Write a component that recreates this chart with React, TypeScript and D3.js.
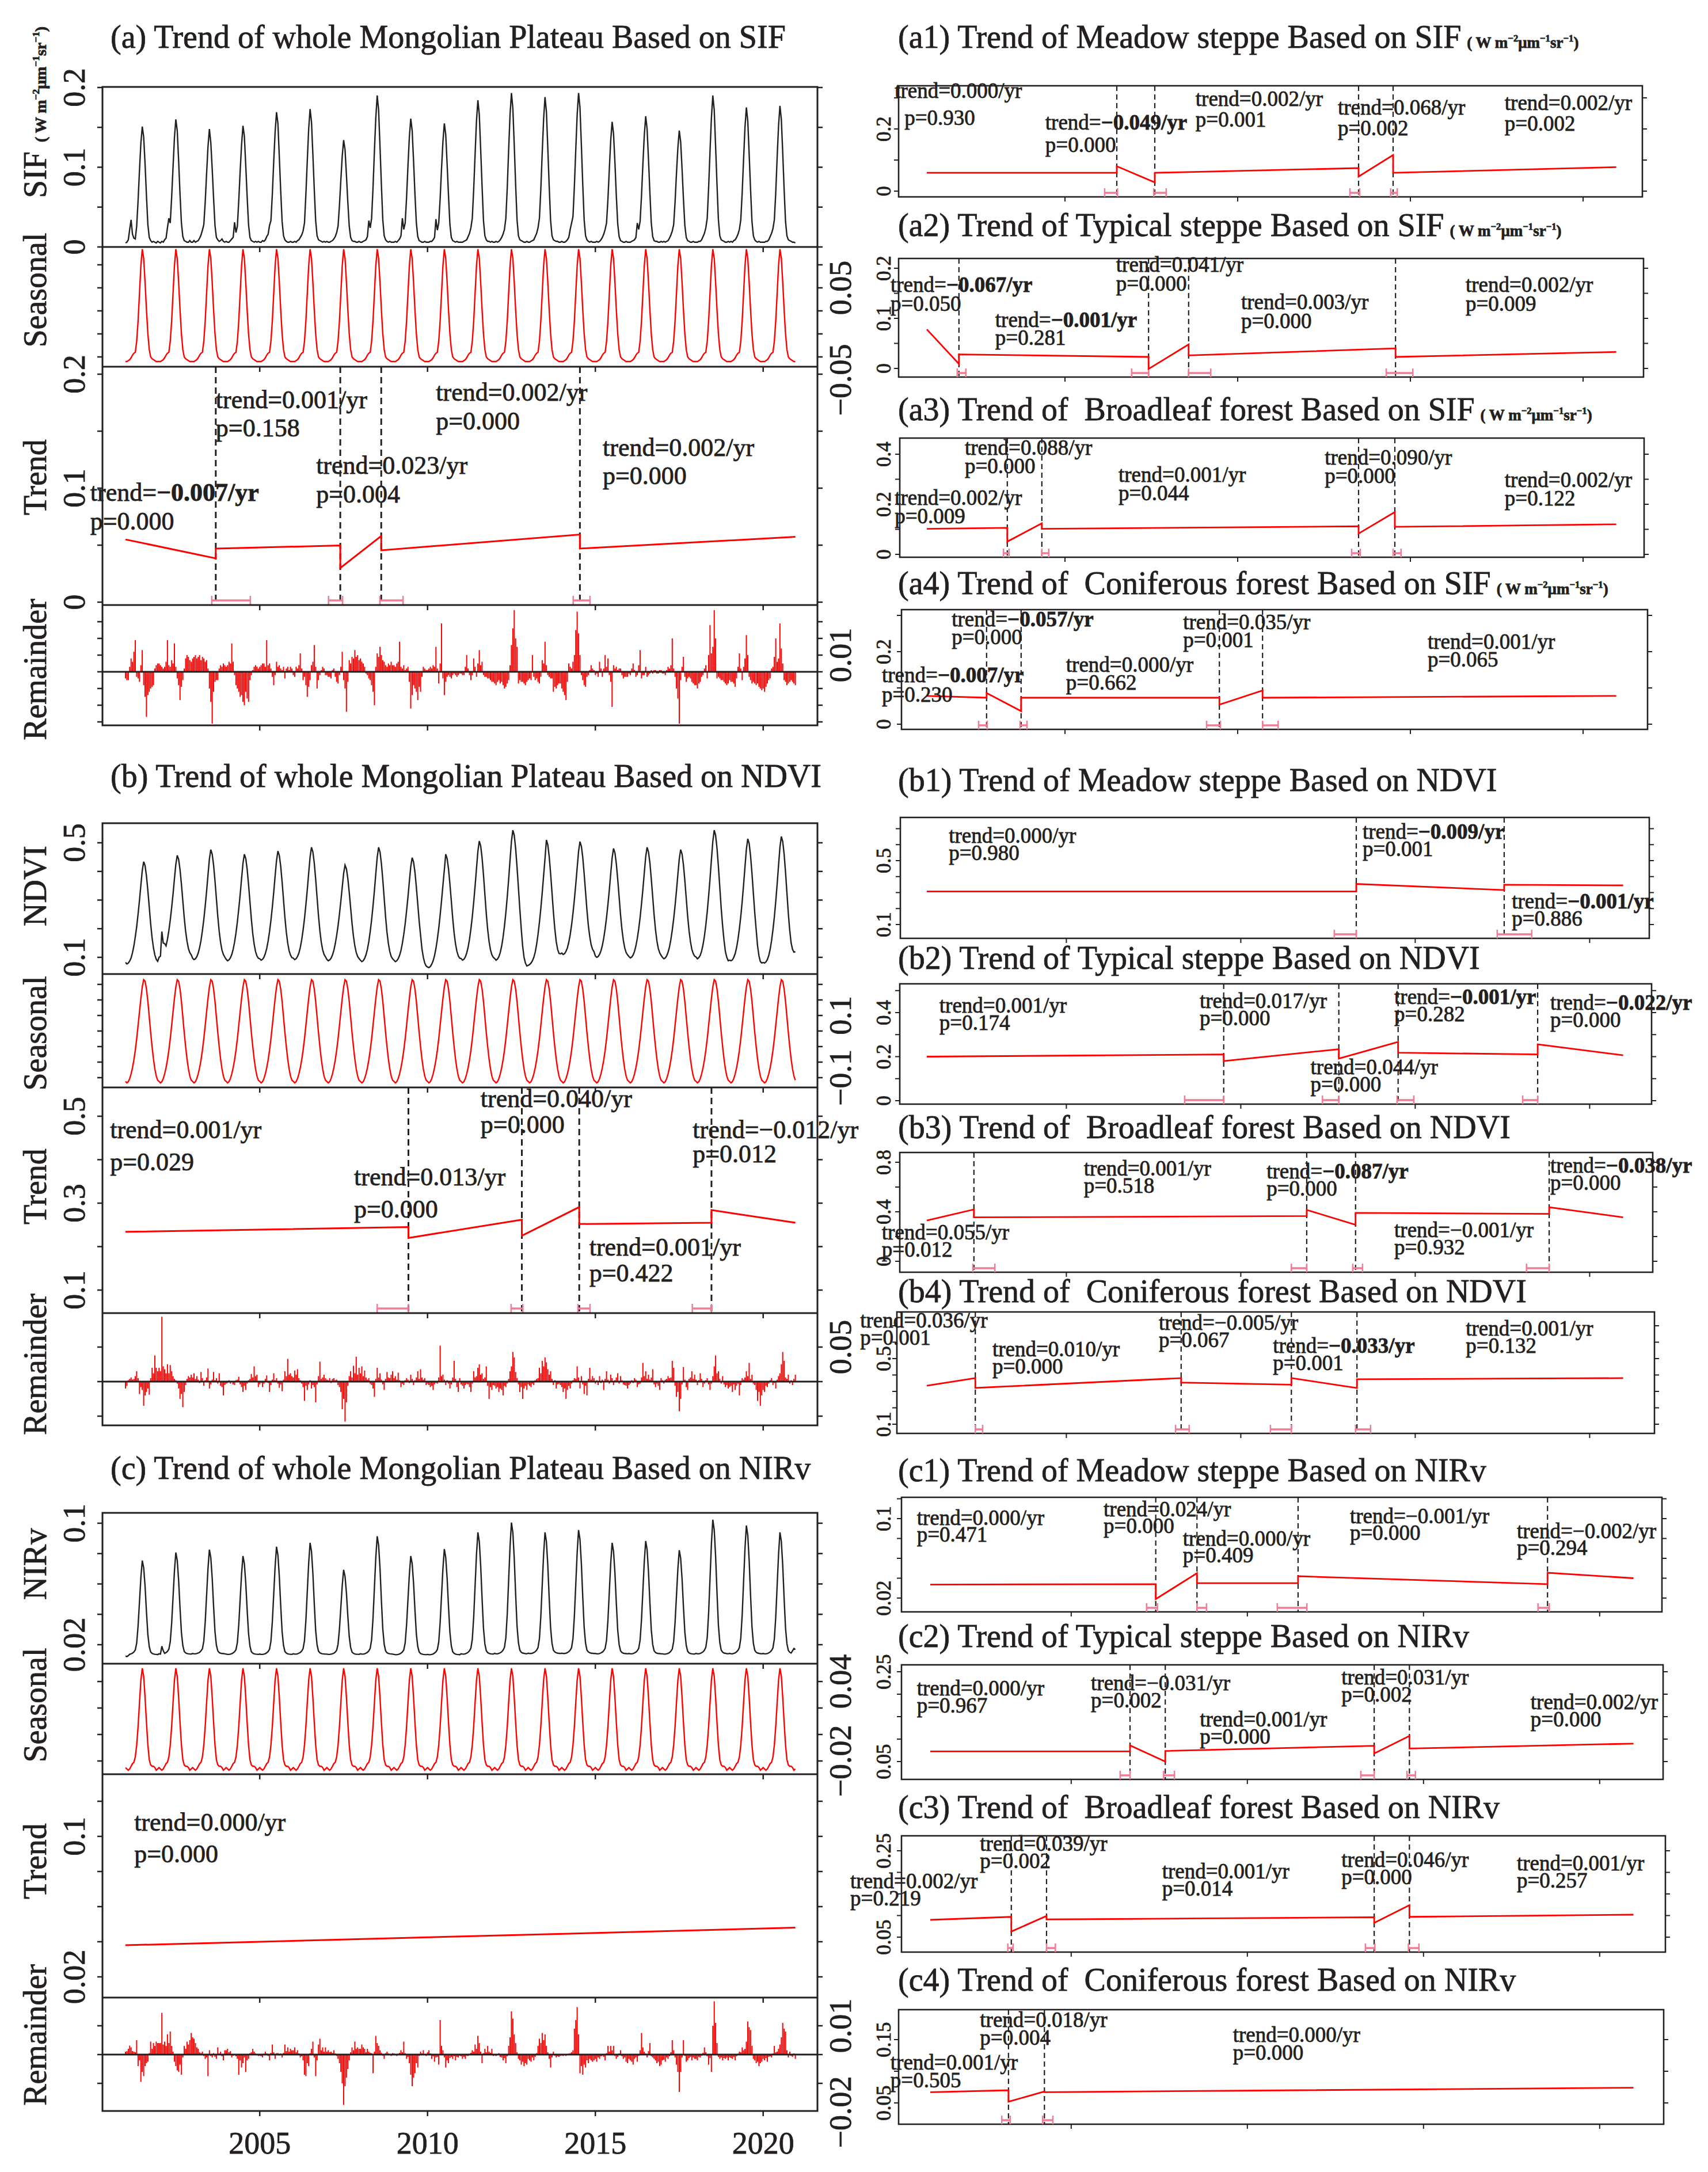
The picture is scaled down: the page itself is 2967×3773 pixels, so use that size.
import React, { useEffect } from "react";
import * as d3 from "d3";

const W = 2967;
const H = 3773;
const SERIF = "'Liberation Serif', 'Times New Roman', 'DejaVu Serif', serif";
const INK = "#231f20";
const RED = "#ff0000";
const PINK = "#ef7d95";

// time axis: 24 samples a year, 2001-2020, one row per year
const firstYear = 2001;
const perYear = 24;
const lastTime = 2020.96;
const yearTicks = [2005, 2010, 2015, 2020];

// ---------- (a) SIF, whole plateau (values in 1e-3) ----------
const sifUnit = 1e-3;
const sifObserved = [
  [5,6,9,22,34,16,11,10,26,58,96,130,151,138,104,64,28,12,8,6,7,6,5,7],
  [6,5,7,6,9,11,24,36,30,62,100,137,160,146,108,66,30,13,8,7,6,6,8,6],
  [6,8,6,7,8,11,15,21,28,56,92,126,148,131,98,61,27,12,9,7,8,10,7,6],
  [7,6,6,8,10,12,31,18,26,58,95,128,152,139,102,63,28,12,8,7,6,7,6,7],
  [6,6,8,7,9,13,16,27,33,66,107,144,169,155,113,70,32,14,9,7,6,6,7,6],
  [6,7,6,8,9,12,15,20,30,66,108,148,173,157,116,72,33,14,9,8,7,6,7,6],
  [7,6,6,7,8,10,13,18,26,52,84,114,134,122,90,56,26,12,8,7,7,6,6,7],
  [6,6,7,8,9,13,33,24,36,74,120,162,190,172,126,78,34,14,9,7,6,7,6,6],
  [6,7,6,8,10,14,36,22,30,62,102,138,161,146,108,66,30,13,8,7,6,6,7,6],
  [6,6,7,7,9,12,35,21,30,60,98,132,155,141,104,64,28,12,8,7,6,7,6,6],
  [6,6,7,8,9,13,17,24,36,72,116,158,184,166,122,76,33,14,9,7,7,6,7,6],
  [6,7,6,7,9,12,16,22,36,74,122,166,193,174,128,78,34,14,9,8,7,6,6,7],
  [6,6,7,8,9,13,17,24,36,72,118,160,188,170,124,76,33,14,9,8,7,7,6,6],
  [7,6,6,7,9,12,22,30,38,76,122,166,193,175,128,78,34,14,9,7,6,7,6,6],
  [6,7,6,7,9,12,16,22,30,60,98,134,157,142,106,64,29,13,8,7,6,6,7,6],
  [6,6,7,8,9,12,30,22,32,64,104,140,164,148,110,68,30,13,8,7,7,6,6,7],
  [6,7,6,7,8,11,15,20,28,56,92,124,146,132,98,60,27,12,8,7,6,6,7,6],
  [6,6,7,7,9,13,17,24,36,74,120,162,190,172,126,78,34,14,9,8,7,6,6,7],
  [6,7,6,8,9,12,16,22,34,68,110,150,175,158,116,72,32,14,9,7,6,7,6,6],
  [6,6,7,7,9,13,17,23,34,68,112,152,177,160,118,72,32,14,9,8,7,6,6,5],
];
const sifSeasonalCycle = [-30,-30,-29,-28,-26,-23,-21,-20,-8,14,44,74,92,82,56,26,0,-17,-25,-27,-28,-29,-30,-30];
const sifRemainder = [
  [-4,-5,-5,3,8,6,12,19,-3,-4,-6,4,13,-8,-15,-27,-14,-12,-10,-9,-8,2,4,5],
  [5,4,3,2,3,6,19,4,3,7,5,17,3,-4,-8,-17,-9,-5,2,8,10,9,7,6],
  [8,9,10,8,9,10,7,9,8,6,7,2,-10,-18,-31,-12,-6,-5,-5,2,4,3,5,4],
  [3,4,6,5,17,6,-2,-8,-10,-12,-15,-14,-18,-20,-12,-16,-18,-5,-2,1,3,4,3,2],
  [3,4,5,5,3,19,4,5,2,-3,-8,-2,6,3,4,2,1,3,-4,2,3,1,3,2],
  [-2,-3,3,2,4,11,2,-5,-3,-8,-15,-9,-5,4,6,16,3,-10,-5,-2,1,3,2,-2],
  [-2,-3,-3,-4,1,2,-3,-6,-7,-2,3,12,-5,-10,-24,-6,7,5,9,8,13,9,10,7],
  [8,6,5,3,-1,-2,-4,-5,-8,-12,-20,3,11,9,15,10,7,6,4,3,5,4,6,4],
  [4,3,5,6,18,3,2,4,1,2,3,-6,-22,-14,-8,-10,-12,-17,-9,-12,-3,3,2,1],
  [1,2,3,2,4,3,15,2,-7,5,29,-4,-14,-6,-3,-2,-3,-4,-2,-1,-2,-3,-2,-1],
  [-1,-2,-2,3,10,2,-2,-5,-2,8,3,-3,5,13,4,6,-2,-3,-3,-4,-4,-5,-6,-6],
  [-7,-8,-6,-5,-7,-6,-8,-10,-9,-7,-5,4,16,26,37,20,15,-7,-5,-6,-6,-7,-8,-6],
  [-5,-4,-5,10,-3,-5,-4,-6,-7,-3,7,5,18,4,-2,-3,-4,-4,-12,-9,-10,-8,-7,-7],
  [-10,-12,-14,-17,-6,5,3,2,6,10,25,36,23,10,-2,-5,-8,-9,-3,-2,1,4,2,1],
  [-2,-1,-3,6,2,-3,2,10,3,8,-2,-6,-21,4,2,3,1,2,2,-2,-4,-3,-3,-3],
  [-1,-2,2,5,1,-3,-2,4,13,-4,-2,-2,3,-3,-2,-1,1,-1,1,1,-1,-1,1,1],
  [-1,-1,-2,1,3,2,4,20,2,-3,-10,-16,-31,-5,3,9,-3,-6,-4,-3,-4,-6,-7,-8],
  [-8,-10,-7,-6,-3,-2,2,4,-4,10,28,11,15,37,20,-4,-3,-4,-5,-5,-6,-7,-8,-7],
  [-5,-6,-6,-7,-9,-4,3,11,2,-5,3,8,22,10,-3,-5,-7,-6,-7,-8,-7,-9,-10,-11],
  [-10,-12,-9,-7,-5,-4,2,3,9,20,6,8,29,14,5,-5,-6,-8,-7,-6,-5,-6,-7,-8],
];
const sifBreaks = [2003.69, 2007.4, 2008.62, 2014.54];
const sifBreakCI = [[2003.57, 2004.72], [2007.05, 2007.47], [2008.58, 2009.27], [2014.34, 2014.84]];
const sifTrend = [[0.055, 0.0384], [0.047, 0.0497], [0.03, 0.058], [0.0455, 0.0593], [0.047, 0.0573]];
const sifNotes = [
  { t: "trend=\u22120.007/yr", p: "p=0.000", x: 1999.95, y: 0.0889, dy: 50, b: true },
  { t: "trend=0.001/yr", p: "p=0.158", x: 2003.69, y: 0.17, dy: 49 },
  { t: "trend=0.023/yr", p: "p=0.004", x: 2006.68, y: 0.1126, dy: 50 },
  { t: "trend=0.002/yr", p: "p=0.000", x: 2010.25, y: 0.1768, dy: 50 },
  { t: "trend=0.002/yr", p: "p=0.000", x: 2015.22, y: 0.1283, dy: 49 },
];

// ---------- (b) NDVI, whole plateau (values in 1e-3) ----------
const ndviUnit = 1e-3;
const ndviObserved = [
  [82,77,80,87,98,116,140,171,207,251,299,352,403,434,420,384,333,275,217,169,133,108,93,86],
  [100,104,190,150,148,140,163,193,230,273,321,374,425,456,442,406,355,297,239,191,156,131,116,109],
  [97,92,95,102,115,134,159,193,232,279,331,388,443,476,460,422,367,305,243,191,152,125,110,101],
  [93,88,91,98,110,128,153,185,224,269,319,374,428,460,445,408,354,294,234,183,146,120,105,97],
  [95,90,93,100,113,131,157,190,229,275,327,384,438,471,456,418,363,301,239,188,150,123,108,99],
  [97,92,95,103,115,134,161,195,235,283,336,394,450,484,468,429,373,309,246,193,153,126,110,102],
  [93,88,91,97,108,124,147,176,210,251,296,345,393,422,409,375,327,273,219,174,140,117,103,96],
  [90,85,88,96,109,128,155,190,231,279,333,392,449,484,468,428,371,306,241,187,148,120,103,95],
  [90,85,88,95,107,124,149,180,217,262,311,365,417,448,433,397,345,286,227,178,130,100,80,70],
  [66,64,68,76,88,106,131,163,201,247,297,352,405,460,445,409,356,297,236,185,147,121,105,97],
  [96,90,93,101,115,135,163,199,242,292,349,410,470,506,489,447,388,320,253,197,155,126,109,100],
  [96,90,94,102,117,139,170,209,256,311,372,440,505,544,526,480,415,342,268,200,140,100,80,70],
  [72,75,80,88,100,118,145,180,222,270,325,385,445,510,493,452,393,326,258,200,156,128,114,112],
  [115,110,113,121,133,153,179,213,254,302,355,413,470,504,488,449,392,328,264,211,172,144,128,120],
  [105,100,103,110,123,141,167,200,239,285,336,393,447,480,465,427,372,311,249,198,160,133,117,109],
  [103,98,101,108,121,140,166,199,239,286,338,395,451,484,468,430,374,312,249,197,158,131,116,107],
  [100,95,98,105,118,136,162,195,234,280,332,389,443,476,461,423,368,306,244,193,155,128,113,104],
  [101,95,99,107,122,144,174,213,259,314,374,441,505,544,526,481,417,344,271,210,160,120,100,88],
  [90,88,91,100,113,134,163,200,243,295,353,416,477,514,497,454,393,324,255,197,140,105,85,80],
  [82,80,84,92,106,128,158,196,241,295,355,421,484,522,504,460,397,325,253,194,150,128,118,120],
];
const ndviSeasonalCycle = [-112,-117,-113,-103,-88,-68,-43,-12,25,68,112,155,192,215,210,185,145,95,45,0,-40,-72,-95,-108];
const ndviRemainder = [
  [-10,-6,2,4,6,3,4,8,15,5,-18,-8,-12,-35,-20,-15,-10,-19,5,20,12,38,20,15],
  [20,15,94,22,18,12,25,12,24,15,8,4,2,-3,-10,-25,-18,-37,-15,-5,4,8,6,10],
  [6,12,4,8,3,-2,14,5,-6,2,6,19,-10,-4,3,14,2,5,-3,12,-6,-8,-20,-5],
  [-3,-2,2,-3,-1,-4,-5,2,3,7,-4,-8,-15,-6,-12,-3,2,4,11,6,22,8,10,-8],
  [-4,-2,-8,-3,4,9,-2,-15,-5,3,12,2,5,-3,-9,-4,-14,3,15,8,33,10,12,8],
  [6,16,10,18,5,2,-3,-8,-28,-6,-12,-4,2,-10,-5,-8,-30,-4,8,29,4,6,10,5],
  [3,2,5,-2,4,5,2,3,-5,-8,-15,-40,-25,-58,-30,-6,8,15,6,23,12,36,10,20],
  [12,22,8,16,6,3,5,-3,-5,-10,-22,4,20,6,12,3,-4,-12,4,14,6,5,10,15],
  [5,8,3,13,2,-8,-3,-5,2,5,3,-2,10,4,-5,2,6,15,4,18,6,3,5,-5],
  [-3,-5,-8,-6,-12,-4,-2,-3,6,52,8,10,3,-5,2,-3,-10,-4,6,30,4,-8,-15,5],
  [-4,-6,-10,-5,-3,-4,-8,-15,-3,15,6,8,20,25,10,12,4,6,22,-6,-25,-8,-12,-5],
  [-6,-10,-8,-15,-10,-12,-20,-6,-8,-3,4,15,22,43,35,14,5,-4,-15,-8,-25,-10,-6,-12],
  [-4,-6,-8,-3,-5,2,4,5,20,12,30,22,35,28,18,10,15,4,-5,2,-10,-4,-3,-5],
  [-8,-15,-10,-25,-12,-6,-10,-3,2,5,4,22,6,-10,8,-4,-18,-6,-20,4,20,3,8,5],
  [-3,2,-5,8,-2,3,-12,4,15,3,-3,10,5,-5,2,6,12,-3,8,2,-4,-5,-6,-10],
  [-5,-3,2,-2,5,3,-8,-4,-3,6,27,8,15,4,10,3,6,18,-4,-8,-3,-6,-12,5],
  [2,-3,3,4,8,5,6,30,20,-6,-22,-15,-43,-25,-4,21,3,-8,-12,4,6,15,4,10],
  [3,-5,2,12,4,-8,-3,2,5,-4,-12,-3,8,22,38,12,15,4,-3,8,-4,-8,-5,-10],
  [-8,-6,-15,-4,-12,-6,-3,-20,-5,5,3,6,15,8,27,4,10,-3,-5,-12,-28,-15,-35,-20],
  [-12,-15,-6,-8,-3,2,5,-5,-2,-10,3,8,12,25,43,30,6,4,10,-3,2,-5,4,10],
];
const ndviBreaks = [2009.43, 2012.81, 2014.52, 2018.46];
const ndviBreakCI = [[2008.5, 2009.43], [2012.49, 2012.84], [2014.48, 2014.84], [2017.89, 2018.46]];
const ndviTrend = [[0.234, 0.245], [0.22, 0.262], [0.225, 0.291], [0.252, 0.255], [0.284, 0.255]];
const ndviNotes = [
  { t: "trend=0.001/yr", p: "p=0.029", x: 2000.54, y: 0.45, dy: 56 },
  { t: "trend=0.013/yr", p: "p=0.000", x: 2007.81, y: 0.341, dy: 56 },
  { t: "trend=0.040/yr", p: "p=0.000", x: 2011.58, y: 0.521, dy: 45 },
  { t: "trend=0.001/yr", p: "p=0.422", x: 2014.82, y: 0.179, dy: 45 },
  { t: "trend=\u22120.012/yr", p: "p=0.012", x: 2017.9, y: 0.45, dy: 42 },
];

// ---------- (c) NIRv, whole plateau (values in 1e-4) ----------
const nirvUnit = 1e-4;
const nirvObserved = [
  [125,122,128,137,140,144,152,165,210,323,482,642,754,707,585,416,266,187,152,143,139,137,136,135],
  [140,138,190,160,143,148,156,170,219,340,512,685,807,756,623,441,280,194,156,146,142,140,139,138],
  [142,140,140,142,145,150,159,173,223,348,525,702,826,774,639,452,286,197,159,148,144,142,141,140],
  [138,136,136,138,141,146,154,167,214,332,499,665,784,734,606,430,273,190,154,144,140,138,137,136],
  [138,136,136,138,141,147,155,170,222,350,532,714,845,790,650,457,286,195,155,145,140,138,137,136],
  [140,138,138,140,144,149,158,174,227,360,549,737,871,815,671,471,293,199,158,147,142,140,139,138],
  [138,136,136,138,140,144,151,163,203,304,447,590,693,650,540,388,254,182,151,143,139,137,137,136],
  [140,138,138,140,144,150,159,176,232,374,575,775,914,856,704,492,303,203,159,147,143,140,139,138],
  [136,134,134,136,139,144,152,165,212,330,497,663,784,734,606,428,271,188,152,142,138,136,135,134],
  [136,134,134,136,139,145,153,168,218,344,523,701,830,775,638,449,281,192,153,143,138,136,135,134],
  [140,138,138,140,144,150,160,177,235,381,588,794,940,879,721,503,308,205,160,148,143,140,139,138],
  [143,140,140,143,147,153,164,182,245,402,625,847,1004,939,769,533,323,212,164,150,145,143,141,140],
  [144,142,142,144,148,154,164,181,239,384,590,795,940,879,723,505,311,209,164,152,147,144,143,142],
  [144,142,142,144,148,154,164,181,240,388,597,807,955,893,734,512,314,210,164,152,147,144,143,142],
  [142,140,140,142,146,151,160,176,229,362,551,739,871,815,673,473,295,201,160,149,144,142,141,140],
  [142,140,140,142,146,151,160,176,230,365,557,748,883,826,680,478,298,202,160,149,144,142,141,140],
  [140,138,138,140,143,148,157,171,221,345,521,697,822,770,635,449,283,195,157,146,142,140,139,138],
  [143,140,140,143,147,153,164,183,247,408,636,863,1023,957,782,542,328,214,164,151,145,143,141,140],
  [143,140,140,143,146,153,163,181,242,396,614,832,985,921,754,524,319,210,163,150,145,143,141,140],
  [142,140,140,142,146,152,162,179,237,382,588,794,940,880,722,503,309,206,162,150,145,160,175,168],
];
const nirvSeasonalCycle = [-250,-260,-270,-260,-240,-220,-210,-170,-80,60,240,410,500,440,280,90,-80,-190,-230,-240,-240,-250,-270,-260];
const nirvRemainder = [
  [10,12,20,31,25,12,10,8,50,-40,-20,-95,-60,-75,-40,-30,-25,5,45,20,40,30,45,40],
  [40,40,145,35,45,30,70,40,80,30,10,-25,-40,-55,-60,-35,-70,-10,30,20,45,35,50,75],
  [60,55,40,25,20,8,5,10,-5,-15,-10,-75,15,-5,-10,5,-8,-15,25,4,10,-6,-20,15],
  [15,20,8,12,-10,-4,2,-6,-15,-70,-20,-45,-30,-10,-60,-20,-15,5,8,20,10,4,2,-5],
  [-4,-6,-10,3,10,4,-5,-20,6,35,8,-15,5,5,-3,4,-10,6,35,12,25,10,20,15],
  [15,25,8,15,4,-10,-6,-20,-70,-75,-30,-40,5,20,45,-10,-75,-20,35,55,15,25,10,25],
  [10,15,8,10,6,15,4,-5,-15,-30,-60,-100,-175,-110,-80,-50,-20,8,25,15,45,20,25,20],
  [20,35,25,20,8,20,10,6,5,-65,10,65,40,30,15,6,-4,-15,5,10,4,2,-5,5],
  [4,2,-5,3,6,15,8,45,5,-15,-8,-30,-70,-110,-80,-65,-30,-45,-5,10,4,15,2,-5],
  [8,15,4,-15,-6,-25,-10,-8,-35,120,30,15,-10,-45,-20,-30,-12,-8,-15,-6,-20,-8,-10,-4],
  [-6,-15,-8,-15,-4,-5,3,6,15,10,35,20,65,40,10,-30,5,20,8,30,10,6,20,-5],
  [-3,-5,2,5,-8,-10,-20,-12,-30,-6,30,60,150,125,70,40,8,-15,-20,-35,-25,-40,-30,-35],
  [-15,-20,-25,-10,-20,-8,5,30,55,40,75,50,70,30,8,-15,-45,-10,10,-4,-10,-6,-8,-5],
  [-3,-5,-2,-5,2,3,5,8,15,90,120,165,70,-65,-40,-70,-35,-45,-20,-30,-15,-20,-25,-20],
  [-15,-25,-10,-15,-6,-4,-8,-20,5,30,10,30,15,30,-5,-15,-8,4,15,-6,-15,-10,-25,-30],
  [-15,-20,-25,-35,-15,-10,-25,-5,15,75,25,10,4,-10,12,40,-6,-10,-15,-20,-30,-25,-40,-35],
  [-20,-18,-25,-10,-15,-6,8,50,15,-10,-35,-60,-130,-60,-10,50,-5,-25,-20,-12,-8,-20,-10,-15],
  [-15,-20,-8,-10,-4,6,25,8,-6,-35,-12,-60,100,185,110,40,-8,-15,-10,-20,-12,-15,-10,-20],
  [-10,-12,-15,-8,-20,-6,3,10,8,25,15,20,45,115,95,85,30,-15,-20,-30,-25,-40,-30,-25],
  [-15,-20,-12,-25,-8,-6,-10,4,30,8,10,20,35,60,110,90,80,15,-10,10,-5,-8,4,-15],
];
const nirvBreaks: number[] = [];
const nirvBreakCI: number[][] = [];
const nirvTrend = [[0.038, 0.048]];
const nirvNotes = [{ t: "trend=0.000/yr", p: "p=0.000", x: 2001.26, y: 0.1033, dy: 55 }];

// ---------- vegetation-type panels: breaks, CI, segment start/end, notes ----------
const a1Breaks = [2006.5, 2007.6, 2013.5, 2014.5];
const a1CI = [[2006.15, 2006.52], [2007.57, 2007.93], [2013.25, 2013.53], [2014.43, 2014.62]];
const a1Trend = [[0.059, 0.059], [0.08, 0.028], [0.059, 0.074], [0.047, 0.116], [0.059, 0.077]];
const a1Notes = [
  { t: "trend=0.000/yr", p: "p=0.930", x: 2000.07, y: 0.3, dy: 47, pdx: 17 },
  { t: "trend=\u22120.049/yr", p: "p=0.000", x: 2004.43, y: 0.198, dy: 39, b: true },
  { t: "trend=0.002/yr", p: "p=0.001", x: 2008.78, y: 0.274 },
  { t: "trend=0.068/yr", p: "p=0.002", x: 2012.9, y: 0.246 },
  { t: "trend=0.002/yr", p: "p=0.002", x: 2017.73, y: 0.261 },
];
const a2Breaks = [2001.93, 2007.42, 2008.58, 2014.57];
const a2CI = [[2001.88, 2002.13], [2006.93, 2007.42], [2008.58, 2009.22], [2014.3, 2015.07]];
const a2Trend = [[0.078, 0.009], [0.028, 0.023], [-0.001, 0.048], [0.026, 0.04], [0.023, 0.033]];
const a2Notes = [
  { t: "trend=\u22120.067/yr", p: "p=0.050", x: 1999.95, y: 0.153, b: true },
  { t: "trend=\u22120.001/yr", p: "p=0.281", x: 2002.98, y: 0.083, dy: 31, b: true },
  { t: "trend=0.041/yr", p: "p=0.000", x: 2006.48, y: 0.193 },
  { t: "trend=0.003/yr", p: "p=0.000", x: 2010.1, y: 0.118 },
  { t: "trend=0.002/yr", p: "p=0.009", x: 2016.6, y: 0.153 },
];
const a3Breaks = [2003.33, 2004.33, 2013.5, 2014.55];
const a3CI = [[2003.22, 2003.38], [2004.33, 2004.53], [2013.3, 2013.55], [2014.5, 2014.73]];
const a3Trend = [[0.102, 0.106], [0.051, 0.124], [0.102, 0.112], [0.083, 0.169], [0.11, 0.12]];
const a3Notes = [
  { t: "trend=0.088/yr", p: "p=0.000", x: 2002.1, y: 0.398 },
  { t: "trend=0.002/yr", p: "p=0.009", x: 2000.07, y: 0.198 },
  { t: "trend=0.001/yr", p: "p=0.044", x: 2006.55, y: 0.29 },
  { t: "trend=0.090/yr", p: "p=0.000", x: 2012.52, y: 0.359 },
  { t: "trend=0.002/yr", p: "p=0.122", x: 2017.73, y: 0.269 },
];
const a4Breaks = [2002.73, 2003.73, 2009.47, 2010.72];
const a4CI = [[2002.5, 2002.75], [2003.7, 2003.9], [2009.1, 2009.5], [2010.72, 2011.17]];
const a4Trend = [[0.078, 0.073], [0.086, 0.036], [0.073, 0.073], [0.054, 0.093], [0.073, 0.078]];
const a4Notes = [
  { t: "trend=\u22120.057/yr", p: "p=0.000", x: 2001.72, y: 0.27, b: true },
  { t: "trend=\u22120.007/yr", p: "p=0.230", x: 1999.7, y: 0.116, dy: 34, b: true },
  { t: "trend=0.000/yr", p: "p=0.662", x: 2005.03, y: 0.144 },
  { t: "trend=0.035/yr", p: "p=0.001", x: 2008.42, y: 0.262 },
  { t: "trend=0.001/yr", p: "p=0.065", x: 2015.5, y: 0.208 },
];
const b1Breaks = [2013.31, 2017.55];
const b1CI = [[2012.68, 2013.31], [2017.35, 2018.34]];
const b1Trend = [[0.307, 0.307], [0.354, 0.316], [0.349, 0.345]];
const b1Notes = [
  { t: "trend=0.000/yr", p: "p=0.980", x: 2001.63, y: 0.612 },
  { t: "trend=\u22120.009/yr", p: "p=0.001", x: 2013.49, y: 0.637, b: true },
  { t: "trend=\u22120.001/yr", p: "p=0.886", x: 2017.77, y: 0.201, b: true },
];
const b2Breaks = [2009.51, 2012.81, 2014.51, 2018.51];
const b2CI = [[2008.39, 2009.51], [2012.34, 2012.81], [2014.48, 2014.96], [2018.08, 2018.51]];
const b2Trend = [[0.2, 0.21], [0.18, 0.234], [0.191, 0.267], [0.218, 0.21], [0.256, 0.206]];
const b2Notes = [
  { t: "trend=0.001/yr", p: "p=0.174", x: 2001.36, y: 0.4 },
  { t: "trend=0.017/yr", p: "p=0.000", x: 2008.82, y: 0.421 },
  { t: "trend=0.044/yr", p: "p=0.000", x: 2012.0, y: 0.12 },
  { t: "trend=\u22120.001/yr", p: "p=0.282", x: 2014.4, y: 0.439, b: true },
  { t: "trend=\u22120.022/yr", p: "p=0.000", x: 2018.87, y: 0.413, b: true },
];
const b3Breaks = [2002.35, 2011.89, 2013.29, 2018.84];
const b3CI = [[2002.32, 2002.95], [2011.45, 2011.89], [2013.21, 2013.49], [2018.19, 2018.84]];
const b3Trend = [[0.33, 0.419], [0.355, 0.366], [0.415, 0.295], [0.391, 0.383], [0.437, 0.355]];
const b3Notes = [
  { t: "trend=0.055/yr", p: "p=0.012", x: 1999.71, y: 0.177 },
  { t: "trend=0.001/yr", p: "p=0.518", x: 2005.5, y: 0.693 },
  { t: "trend=\u22120.087/yr", p: "p=0.000", x: 2010.74, y: 0.67, b: true },
  { t: "trend=\u22120.001/yr", p: "p=0.932", x: 2014.4, y: 0.195 },
  { t: "trend=\u22120.038/yr", p: "p=0.000", x: 2018.87, y: 0.716, b: true },
];
const b4Breaks = [2002.39, 2008.29, 2011.45, 2013.33];
const b4CI = [[2002.39, 2002.6], [2008.13, 2008.52], [2010.85, 2011.45], [2013.29, 2013.72]];
const b4Trend = [[0.335, 0.381], [0.321, 0.381], [0.354, 0.341], [0.381, 0.321], [0.374, 0.381]];
const b4Notes = [
  { t: "trend=0.036/yr", p: "p=0.001", x: 1999.09, y: 0.689 },
  { t: "trend=0.010/yr", p: "p=0.000", x: 2002.88, y: 0.514 },
  { t: "trend=\u22120.005/yr", p: "p=0.067", x: 2007.65, y: 0.675 },
  { t: "trend=\u22120.033/yr", p: "p=0.001", x: 2010.92, y: 0.535, b: true },
  { t: "trend=0.001/yr", p: "p=0.132", x: 2016.45, y: 0.64 },
];
const c1Breaks = [2007.4, 2008.57, 2011.44, 2018.52];
const c1CI = [[2007.14, 2007.45], [2008.57, 2008.84], [2010.85, 2011.69], [2018.25, 2018.57]];
const c1Trend = [[0.0336, 0.034], [0.019, 0.045], [0.035, 0.035], [0.042, 0.034], [0.0455, 0.04]];
const c1Notes = [
  { t: "trend=0.000/yr", p: "p=0.471", x: 2000.62, y: 0.0936 },
  { t: "trend=0.024/yr", p: "p=0.000", x: 2005.92, y: 0.1023 },
  { t: "trend=0.000/yr", p: "p=0.409", x: 2008.17, y: 0.0728 },
  { t: "trend=\u22120.001/yr", p: "p=0.000", x: 2012.91, y: 0.0954 },
  { t: "trend=\u22120.002/yr", p: "p=0.294", x: 2017.65, y: 0.0803 },
];
const c2Breaks = [2006.67, 2007.67, 2013.6, 2014.6];
const c2CI = [[2006.39, 2006.67], [2007.62, 2007.93], [2013.22, 2013.6], [2014.53, 2014.77]];
const c2Trend = [[0.0726, 0.0726], [0.086, 0.05], [0.0736, 0.085], [0.068, 0.107], [0.079, 0.09]];
const c2Notes = [
  { t: "trend=0.000/yr", p: "p=0.967", x: 2000.62, y: 0.197 },
  { t: "trend=\u22120.031/yr", p: "p=0.002", x: 2005.56, y: 0.209 },
  { t: "trend=0.001/yr", p: "p=0.000", x: 2008.65, y: 0.128 },
  { t: "trend=0.031/yr", p: "p=0.002", x: 2012.67, y: 0.222 },
  { t: "trend=0.002/yr", p: "p=0.000", x: 2018.04, y: 0.167 },
];
const c3Breaks = [2003.3, 2004.3, 2013.6, 2014.6];
const c3CI = [[2003.2, 2003.35], [2004.3, 2004.55], [2013.35, 2013.62], [2014.57, 2014.87]];
const c3Trend = [[0.09, 0.097], [0.063, 0.099], [0.091, 0.096], [0.083, 0.124], [0.097, 0.102]];
const c3Notes = [
  { t: "trend=0.039/yr", p: "p=0.002", x: 2002.41, y: 0.25 },
  { t: "trend=0.002/yr", p: "p=0.219", x: 1998.73, y: 0.163 },
  { t: "trend=0.001/yr", p: "p=0.014", x: 2007.58, y: 0.186 },
  { t: "trend=0.046/yr", p: "p=0.000", x: 2012.67, y: 0.213 },
  { t: "trend=0.001/yr", p: "p=0.257", x: 2017.65, y: 0.205 },
];
const c4Breaks = [2003.22, 2004.24];
const c4CI = [[2003.03, 2003.27], [2004.19, 2004.48]];
const c4Trend = [[0.067, 0.07], [0.052, 0.068], [0.067, 0.074]];
const c4Notes = [
  { t: "trend=0.018/yr", p: "p=0.004", x: 2002.41, y: 0.17 },
  { t: "trend=0.001/yr", p: "p=0.505", x: 1999.87, y: 0.103 },
  { t: "trend=0.000/yr", p: "p=0.000", x: 2009.59, y: 0.146 },
];

// ---------- layout ----------
const BOX_L = 178;
const BOX_R = 1420;
const xLeft = d3.scaleLinear().domain([2001, 2021]).range([218, 1384]);

const plateauLayout = [
  {
    titleY: 83, top: 151, cuts: [429, 637, 1051], bottom: 1260,
    obsCal: [0, 429, 0.2, 152], obsTicks: [0, 0.05, 0.1, 0.15, 0.2], obsLabels: [0, 0.1, 0.2],
    seaCal: [0, 580, 0.05, 500], seaTicks: [-0.025, 0, 0.025, 0.05, 0.075], seaLabels: [-0.05, 0.05],
    trCal: [0, 1046, 0.1, 848], trTicks: [0, 0.05, 0.1, 0.15, 0.2], trLabels: [0, 0.1, 0.2],
    remCal: [0, 1167, 0.01, 1138], remTicks: [-0.03, -0.02, -0.01, 0, 0.01, 0.02, 0.03], remLabels: [0.01],
    nameY: [344, 504, 829, 1163],
  },
  {
    titleY: 1367, top: 1430, cuts: [1692, 1889, 2281], bottom: 2476,
    obsCal: [0.1, 1663, 0.5, 1464], obsTicks: [0.1, 0.2, 0.3, 0.4, 0.5], obsLabels: [0.1, 0.5],
    seaCal: [0, 1818, 0.1, 1764], seaTicks: [-0.1, -0.05, 0, 0.05, 0.1, 0.15, 0.2], seaLabels: [-0.1, 0.1],
    trCal: [0.1, 2241, 0.5, 1939], trTicks: [0.1, 0.2, 0.3, 0.4, 0.5], trLabels: [0.1, 0.3, 0.5],
    remCal: [0, 2400, 0.05, 2340], remTicks: [-0.05, 0, 0.05], remLabels: [0.05],
    nameY: [1539, 1795, 2061, 2370],
  },
  {
    titleY: 2569, top: 2628, cuts: [2890, 3082, 3470], bottom: 3667,
    obsCal: [0.02, 2857, 0.1, 2646], obsTicks: [0.02, 0.04, 0.06, 0.08, 0.1], obsLabels: [0.02, 0.1],
    seaCal: [0, 3013, 0.04, 2921], seaTicks: [-0.02, 0, 0.02, 0.04], seaLabels: [-0.02, 0.04],
    trCal: [0.02, 3434, 0.1, 3190], trTicks: [0.02, 0.04, 0.06, 0.08, 0.1, 0.12], trLabels: [0.02, 0.1],
    remCal: [0, 3569, 0.01, 3519], remTicks: [-0.01, 0, 0.01], remLabels: [-0.02, 0.01],
    nameY: [2717, 2962, 3233, 3535],
  },
];

const plateaus = [
  { title: "(a) Trend of whole Mongolian Plateau Based on SIF", name: "SIF", unit: sifUnit,
    obs: sifObserved, cycle: sifSeasonalCycle, rem: sifRemainder, breaks: sifBreaks, ci: sifBreakCI,
    trend: sifTrend, notes: sifNotes, axis: false },
  { title: "(b) Trend of whole Mongolian Plateau Based on NDVI", name: "NDVI", unit: ndviUnit,
    obs: ndviObserved, cycle: ndviSeasonalCycle, rem: ndviRemainder, breaks: ndviBreaks, ci: ndviBreakCI,
    trend: ndviTrend, notes: ndviNotes, axis: false },
  { title: "(c) Trend of whole Mongolian Plateau Based on NIRv", name: "NIRv", unit: nirvUnit,
    obs: nirvObserved, cycle: nirvSeasonalCycle, rem: nirvRemainder, breaks: nirvBreaks, ci: nirvBreakCI,
    trend: nirvTrend, notes: nirvNotes, axis: true },
];

const typeLayout = {
  a1: { titleY: 83, top: 149, bottom: 342, left: 1561, right: 2853, xr: [1610, 2810], cal: [0, 332, 0.2, 224], ticks: [0, 0.1, 0.2, 0.3], labels: [0, 0.2], dy: 36 },
  a2: { titleY: 410, top: 449, bottom: 655, left: 1561, right: 2855, xr: [1610, 2810], cal: [0, 640, 0.2, 466], ticks: [0, 0.05, 0.1, 0.15, 0.2], labels: [0, 0.1, 0.2], dy: 33 },
  a3: { titleY: 730, top: 761, bottom: 968, left: 1563, right: 2856, xr: [1610, 2810], cal: [0, 963, 0.4, 789], ticks: [0, 0.1, 0.2, 0.3, 0.4], labels: [0, 0.2, 0.4], dy: 32 },
  a4: { titleY: 1032, top: 1059, bottom: 1267, left: 1566, right: 2862, xr: [1610, 2810], cal: [0, 1258, 0.2, 1132], ticks: [0, 0.1, 0.2, 0.3], labels: [0, 0.2], dy: 31 },
  b1: { titleY: 1374, top: 1420, bottom: 1630, left: 1564, right: 2865, xr: [1610, 2822], cal: [0.1, 1606, 0.5, 1495], ticks: [0.1, 0.2, 0.3, 0.4, 0.5, 0.6, 0.7], labels: [0.1, 0.5], dy: 30 },
  b2: { titleY: 1683, top: 1709, bottom: 1918, left: 1563, right: 2869, xr: [1610, 2822], cal: [0, 1912, 0.4, 1759], ticks: [0, 0.1, 0.2, 0.3, 0.4, 0.5], labels: [0, 0.2, 0.4], dy: 30 },
  b3: { titleY: 1977, top: 2002, bottom: 2210, left: 1563, right: 2871, xr: [1610, 2822], cal: [0, 2191, 0.8, 2019], ticks: [0, 0.2, 0.4, 0.6, 0.8], labels: [0, 0.4, 0.8], dy: 30 },
  b4: { titleY: 2262, top: 2279, bottom: 2490, left: 1558, right: 2874, xr: [1610, 2822], cal: [0.1, 2474, 0.5, 2360], ticks: [0.1, 0.2, 0.3, 0.4, 0.5, 0.6, 0.7], labels: [0.1, 0.5], dy: 30 },
  c1: { titleY: 2573, top: 2601, bottom: 2800, left: 1566, right: 2887, xr: [1616, 2840], cal: [0.02, 2776, 0.1, 2638], ticks: [0.02, 0.04, 0.06, 0.08, 0.1, 0.12], labels: [0.02, 0.1], dy: 29 },
  c2: { titleY: 2861, top: 2892, bottom: 3091, left: 1566, right: 2889, xr: [1616, 2840], cal: [0.05, 3060, 0.25, 2904], ticks: [0.05, 0.1, 0.15, 0.2, 0.25], labels: [0.05, 0.25], dy: 30 },
  c3: { titleY: 3158, top: 3189, bottom: 3391, left: 1566, right: 2893, xr: [1616, 2840], cal: [0.05, 3365, 0.25, 3215], ticks: [0.05, 0.1, 0.15, 0.2, 0.25], labels: [0.05, 0.25], dy: 30 },
  c4: { titleY: 3458, top: 3491, bottom: 3690, left: 1561, right: 2890, xr: [1616, 2840], cal: [0.05, 3653, 0.15, 3543], ticks: [0.05, 0.1, 0.15], labels: [0.05, 0.15], dy: 31 },
};

const typePanels = [
  { id: "a1", title: "(a1) Trend of Meadow steppe Based on SIF", unit: true, breaks: a1Breaks, ci: a1CI, trend: a1Trend, notes: a1Notes },
  { id: "a2", title: "(a2) Trend of Typical steppe Based on SIF", unit: true, breaks: a2Breaks, ci: a2CI, trend: a2Trend, notes: a2Notes },
  { id: "a3", title: "(a3) Trend of  Broadleaf forest Based on SIF", unit: true, breaks: a3Breaks, ci: a3CI, trend: a3Trend, notes: a3Notes },
  { id: "a4", title: "(a4) Trend of  Coniferous forest Based on SIF", unit: true, breaks: a4Breaks, ci: a4CI, trend: a4Trend, notes: a4Notes },
  { id: "b1", title: "(b1) Trend of Meadow steppe Based on NDVI", unit: false, breaks: b1Breaks, ci: b1CI, trend: b1Trend, notes: b1Notes },
  { id: "b2", title: "(b2) Trend of Typical steppe Based on NDVI", unit: false, breaks: b2Breaks, ci: b2CI, trend: b2Trend, notes: b2Notes },
  { id: "b3", title: "(b3) Trend of  Broadleaf forest Based on NDVI", unit: false, breaks: b3Breaks, ci: b3CI, trend: b3Trend, notes: b3Notes },
  { id: "b4", title: "(b4) Trend of  Coniferous forest Based on NDVI", unit: false, breaks: b4Breaks, ci: b4CI, trend: b4Trend, notes: b4Notes },
  { id: "c1", title: "(c1) Trend of Meadow steppe Based on NIRv", unit: false, breaks: c1Breaks, ci: c1CI, trend: c1Trend, notes: c1Notes },
  { id: "c2", title: "(c2) Trend of Typical steppe Based on NIRv", unit: false, breaks: c2Breaks, ci: c2CI, trend: c2Trend, notes: c2Notes },
  { id: "c3", title: "(c3) Trend of  Broadleaf forest Based on NIRv", unit: false, breaks: c3Breaks, ci: c3CI, trend: c3Trend, notes: c3Notes },
  { id: "c4", title: "(c4) Trend of  Coniferous forest Based on NIRv", unit: false, breaks: c4Breaks, ci: c4CI, trend: c4Trend, notes: c4Notes },
];

// ---------- helpers ----------
const cal = (c: number[]) => d3.scaleLinear().domain([c[0], c[2]]).range([c[1], c[3]]);
const fmt = (v: number) => (v === 0 ? "0" : String(v).replace("-", "\u2212"));

// rows of 24 samples -> [time, value]
const toPoints = (rows: number[][], unit: number) =>
  rows.flatMap((row, r) => row.map((v, i) => [firstYear + r + i / perYear, v * unit] as [number, number]));

const tileCycle = (cycle: number[], unit: number) =>
  d3.range(20 * perYear).map((i) => [firstYear + i / perYear, cycle[i % perYear] * unit] as [number, number]);

const trendPoints = (breaks: number[], trend: number[][]) => {
  const edges = [firstYear, ...breaks, lastTime];
  return trend.flatMap((s, k) => [[edges[k], s[0]], [edges[k + 1], s[1]]] as [number, number][]);
};

function unitTspans(size: number, dx: number) {
  const sup = size * 0.62;
  const up = size * 0.42;
  return [
    <tspan key="u0" fontSize={size} fontWeight="bold" dx={dx}>( W m</tspan>,
    <tspan key="u1" fontSize={sup} fontWeight="bold" dy={-up}>{"\u22122"}</tspan>,
    <tspan key="u2" fontSize={size} fontWeight="bold" dy={up}>{"\u03bcm"}</tspan>,
    <tspan key="u3" fontSize={sup} fontWeight="bold" dy={-up}>{"\u22121"}</tspan>,
    <tspan key="u4" fontSize={size} fontWeight="bold" dy={up}>sr</tspan>,
    <tspan key="u5" fontSize={sup} fontWeight="bold" dy={-up}>{"\u22121"}</tspan>,
    <tspan key="u6" fontSize={size} fontWeight="bold" dy={up}>)</tspan>,
  ];
}

function VText({ x, y, size, anchor = "middle", children }: any) {
  return (
    <text transform={`translate(${x},${y}) rotate(-90)`} textAnchor={anchor} fontSize={size}>
      {children}
    </text>
  );
}

function Note({ n, x, y, size, dy }: any) {
  const px = x(n.x);
  const py = y(n.y);
  const head = n.b ? n.t.slice(0, 6) : n.t;
  const tail = n.b ? n.t.slice(6) : "";
  return (
    <g fontSize={size}>
      <text x={px} y={py}>
        {head}
        {tail && <tspan fontWeight="bold">{tail}</tspan>}
      </text>
      <text x={px + (n.pdx ?? 0)} y={py + (n.dy ?? dy)}>{n.p}</text>
    </g>
  );
}

function Brackets({ ci, x, yb }: any) {
  return (
    <g stroke={PINK} fill="none">
      {ci.map((c: number[], k: number) => (
        <g key={k}>
          <line x1={x(c[0])} x2={x(c[1])} y1={yb} y2={yb} strokeWidth={3.5} />
          <line x1={x(c[0])} x2={x(c[0])} y1={yb - 8} y2={yb + 7} strokeWidth={2.5} />
          <line x1={x(c[1])} x2={x(c[1])} y1={yb - 8} y2={yb + 7} strokeWidth={2.5} />
        </g>
      ))}
    </g>
  );
}

// ---------- whole-plateau panel: data / seasonal / trend / remainder ----------
function PlateauPanel({ P, L }: any) {
  const x = xLeft;
  const yO = cal(L.obsCal);
  const yS = cal(L.seaCal);
  const yT = cal(L.trCal);
  const yR = cal(L.remCal);
  const [c1, c2, c3] = L.cuts;
  const line = (ys: any) => d3.line<[number, number]>().x((d) => x(d[0])).y((d) => ys(d[1]));

  const obsPts = toPoints(P.obs, P.unit);
  const seaPts = tileCycle(P.cycle, P.unit);
  const remPts = toPoints(P.rem, P.unit);
  const trPts = trendPoints(P.breaks, P.trend);
  const y0 = yR(0);
  const remPath = remPts.map((d) => `M${x(d[0]).toFixed(1)},${y0.toFixed(1)}V${yR(d[1]).toFixed(1)}`).join("");

  const subs = [
    { top: L.top, bottom: c1, y: yO, ticks: L.obsTicks, labels: L.obsLabels, side: "left" },
    { top: c1, bottom: c2, y: yS, ticks: L.seaTicks, labels: L.seaLabels, side: "right" },
    { top: c2, bottom: c3, y: yT, ticks: L.trTicks, labels: L.trLabels, side: "left" },
    { top: c3, bottom: L.bottom, y: yR, ticks: L.remTicks, labels: L.remLabels, side: "right" },
  ];

  return (
    <g>
      <text x={192} y={L.titleY} fontSize={56}>{P.title}</text>

      {/* series */}
      <path d={line(yO)(obsPts) ?? ""} fill="none" stroke={INK} strokeWidth={2.4} />
      <path d={line(yS)(seaPts) ?? ""} fill="none" stroke={RED} strokeWidth={2.4} />
      <path d={remPath} stroke={RED} strokeWidth={2} fill="none" />
      <line x1={BOX_L} x2={BOX_R} y1={y0} y2={y0} stroke={INK} strokeWidth={3} />

      {/* breakpoints in the trend component */}
      {P.breaks.map((b: number, k: number) => (
        <line key={k} x1={x(b)} x2={x(b)} y1={c2} y2={c3} stroke={INK} strokeWidth={3} strokeDasharray="11 7" />
      ))}
      <Brackets ci={P.ci} x={x} yb={c3 - 8} />
      <path d={line(yT)(trPts) ?? ""} fill="none" stroke={RED} strokeWidth={3} />

      {/* frame */}
      <rect x={BOX_L} y={L.top} width={BOX_R - BOX_L} height={L.bottom - L.top} fill="none" stroke={INK} strokeWidth={3} />
      {L.cuts.map((c: number, k: number) => (
        <line key={k} x1={BOX_L} x2={BOX_R} y1={c} y2={c} stroke={INK} strokeWidth={3} />
      ))}

      {/* axes */}
      {subs.map((s, k) => (
        <g key={k}>
          {s.ticks
            .filter((v: number) => s.y(v) >= s.top - 1 && s.y(v) <= s.bottom + 1)
            .map((v: number, j: number) => (
              <g key={j} stroke={INK} strokeWidth={2.5}>
                <line x1={BOX_L - 9} x2={BOX_L} y1={s.y(v)} y2={s.y(v)} />
                <line x1={BOX_R} x2={BOX_R + 9} y1={s.y(v)} y2={s.y(v)} />
              </g>
            ))}
          {s.labels.map((v: number, j: number) => (
            <VText key={j} x={s.side === "left" ? 147 : 1478} y={s.y(v)} size={54}>{fmt(v)}</VText>
          ))}
          {yearTicks.map((yr) => (
            <line key={yr} x1={x(yr)} x2={x(yr)} y1={s.bottom} y2={s.bottom + 9} stroke={INK} strokeWidth={2.5} />
          ))}
        </g>
      ))}

      {/* component names */}
      {P.name === "SIF" ? (
        <VText x={80} y={L.nameY[0]} size={56} anchor="start">
          SIF{unitTspans(28, 16)}
        </VText>
      ) : (
        <VText x={80} y={L.nameY[0]} size={56}>{P.name}</VText>
      )}
      <VText x={80} y={L.nameY[1]} size={56}>Seasonal</VText>
      <VText x={80} y={L.nameY[2]} size={56}>Trend</VText>
      <VText x={80} y={L.nameY[3]} size={56}>Remainder</VText>

      {P.notes.map((n: any, k: number) => (
        <Note key={k} n={n} x={x} y={yT} size={44} dy={50} />
      ))}

      {P.axis &&
        yearTicks.map((yr) => (
          <text key={yr} x={x(yr)} y={3741} fontSize={54} textAnchor="middle">{yr}</text>
        ))}
    </g>
  );
}

// ---------- vegetation-type trend panel ----------
function TypePanel({ P }: any) {
  const L = (typeLayout as any)[P.id];
  const x = d3.scaleLinear().domain([2001, 2021]).range(L.xr);
  const y = cal(L.cal);
  const trPts = trendPoints(P.breaks, P.trend);
  const line = d3.line<[number, number]>().x((d) => x(d[0])).y((d) => y(d[1]));
  return (
    <g>
      <text x={1560} y={L.titleY} fontSize={56} style={{ whiteSpace: "pre" }}>
        {P.title}
        {P.unit && unitTspans(27, 10)}
      </text>
      <rect x={L.left} y={L.top} width={L.right - L.left} height={L.bottom - L.top} fill="none" stroke={INK} strokeWidth={2.6} />
      {L.ticks.map((v: number, j: number) => (
        <g key={j} stroke={INK} strokeWidth={2}>
          <line x1={L.left - 8} x2={L.left} y1={y(v)} y2={y(v)} />
          <line x1={L.right} x2={L.right + 8} y1={y(v)} y2={y(v)} />
        </g>
      ))}
      {yearTicks.map((yr) => (
        <line key={yr} x1={x(yr)} x2={x(yr)} y1={L.bottom} y2={L.bottom + 8} stroke={INK} strokeWidth={2} />
      ))}
      {L.labels.map((v: number, j: number) => (
        <VText key={j} x={1547} y={y(v)} size={35}>{fmt(v)}</VText>
      ))}
      {P.breaks.map((b: number, k: number) => (
        <line key={k} x1={x(b)} x2={x(b)} y1={L.top} y2={L.bottom} stroke={INK} strokeWidth={2.2} strokeDasharray="9 6" />
      ))}
      <Brackets ci={P.ci} x={x} yb={L.bottom - 7} />
      <path d={line(trPts) ?? ""} fill="none" stroke={RED} strokeWidth={2.8} />
      {P.notes.map((n: any, k: number) => (
        <Note key={k} n={n} x={x} y={y} size={37} dy={L.dy} />
      ))}
    </g>
  );
}

export default function App() {
  useEffect(() => {
    document.body.style.margin = "0";
  }, []);
  return (
    <svg
      width={W}
      height={H}
      viewBox={`0 0 ${W} ${H}`}
      style={{ position: "absolute", left: 0, top: 0, display: "block", background: "#fff" }}
      fontFamily={SERIF}
      fill={INK}
    >
      {/* slightly heavier type, as in the printed figure */}
      <style>{`text { stroke: ${INK}; stroke-width: 0.8px; paint-order: stroke; }`}</style>
      <rect width={W} height={H} fill="#fff" />
      {plateaus.map((P, k) => (
        <PlateauPanel key={k} P={P} L={plateauLayout[k]} />
      ))}
      {typePanels.map((P) => (
        <TypePanel key={P.id} P={P} />
      ))}
    </svg>
  );
}
